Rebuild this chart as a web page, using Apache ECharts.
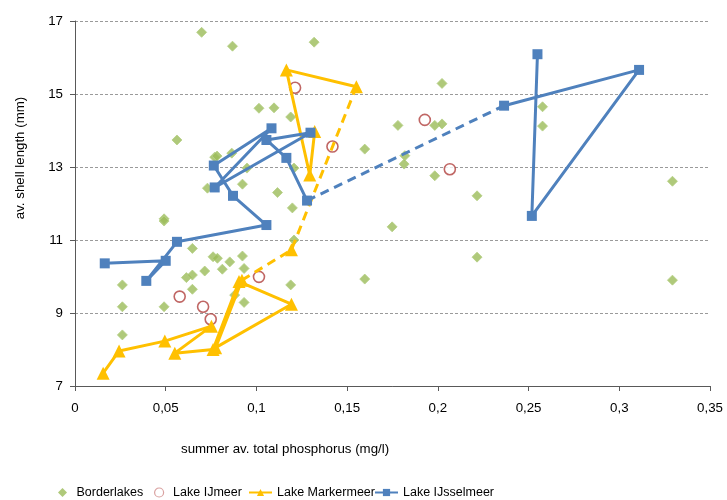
<!DOCTYPE html>
<html>
<head>
<meta charset="utf-8">
<script src="https://cdn.jsdelivr.net/npm/echarts@6/dist/echarts.min.js"></script>
<style>
  html, body { margin: 0; padding: 0; background: #fff; }
  #chart { width: 727px; height: 500px; }
</style>
</head>
<body>
<div id="chart"></div>
<script>
// Summer average total phosphorus (mg/l) vs. average shell length (mm)

const borderlakes = [
  [0.0698, 16.69], [0.0868, 16.31], [0.1318, 16.42], [0.1014, 14.61], [0.1097, 14.62],
  [0.1189, 14.37], [0.0562, 13.74], [0.1597, 13.49], [0.0864, 13.38], [0.0770, 13.27],
  [0.0783, 13.30], [0.0730, 12.42], [0.1780, 14.14], [0.1818, 13.31], [0.1814, 13.08],
  [0.0948, 12.97], [0.1207, 12.97], [0.0923, 12.53], [0.1116, 12.30], [0.2023, 15.29],
  [0.1983, 14.14], [0.2023, 14.18], [0.1983, 12.76], [0.2577, 14.65], [0.2577, 14.12],
  [0.2216, 12.21], [0.3293, 12.61], [0.2216, 10.53], [0.3293, 9.90], [0.1198, 11.88],
  [0.1748, 11.36], [0.1207, 11.00], [0.0923, 10.56], [0.0932, 10.22], [0.0853, 10.40],
  [0.1189, 9.77], [0.1597, 9.93], [0.0880, 9.49], [0.0932, 9.29], [0.0491, 11.58],
  [0.0491, 11.52], [0.0647, 10.77], [0.0761, 10.54], [0.0785, 10.50], [0.0812, 10.20],
  [0.0715, 10.15], [0.0614, 9.97], [0.0647, 10.04], [0.0647, 9.65], [0.0261, 9.77],
  [0.0261, 9.17], [0.0491, 9.17], [0.0261, 8.40]
];

const ijmeer = [
  [0.1213, 15.17], [0.1419, 13.56], [0.1928, 14.29], [0.2066, 12.94],
  [0.1014, 9.99], [0.0577, 9.45], [0.0706, 9.17], [0.0748, 8.83]
];

// Markermeer: two measured runs joined by a gap year (dashed)
const markermeerRunA = [
  [0.0155, 7.35], [0.0243, 7.96], [0.0495, 8.23], [0.0752, 8.64], [0.0550, 7.90],
  [0.0761, 8.00], [0.0904, 9.86], [0.1193, 9.24], [0.0775, 8.05], [0.0920, 9.90]
];
const markermeerGapPoint = [[0.1193, 10.73]];
const markermeerRunB = [
  [0.1551, 15.20], [0.1165, 15.66], [0.1294, 12.78], [0.1321, 13.97]
];

// IJsselmeer: two runs joined by a dashed gap
const ijsselmeerRunA = [
  [0.0164, 10.36], [0.0500, 10.43], [0.0393, 9.88], [0.0562, 10.95], [0.1055, 11.41],
  [0.0871, 12.21], [0.0765, 13.04], [0.1083, 14.06], [0.0770, 12.44], [0.1298, 13.94],
  [0.1055, 13.74], [0.1165, 13.25], [0.1279, 12.08]
];
const ijsselmeerRunB = [
  [0.2365, 14.68], [0.3109, 15.66], [0.2518, 11.66], [0.2549, 16.09]
];

const seriesNames = ['Borderlakes', 'Lake IJmeer', 'Lake Markermeer', 'Lake IJsselmeer'];
const xAxisTitle = 'summer av. total phosphorus (mg/l)';
const yAxisTitle = 'av. shell length (mm)';

const GREEN = '#9BBB59', RED = '#B0403D', YELLOW = '#FFC000', BLUE = '#4F81BD';
const FONT = 'Liberation Sans, Arial, sans-serif';

const markermeerDash = [markermeerRunA[markermeerRunA.length - 1], markermeerGapPoint[0], markermeerRunB[0]];
const ijsselmeerDash = [ijsselmeerRunA[ijsselmeerRunA.length - 1], ijsselmeerRunB[0]];

const commaNum = v => String(+v.toFixed(2)).replace('.', ',');

function lineRun(name, data, color, symbol, size) {
  return {
    name, type: 'line', data, symbol, symbolSize: size, showSymbol: true,
    lineStyle: { color, width: 3 }, itemStyle: { color, borderWidth: 0 },
    emphasis: { disabled: true }, animation: false, z: 3
  };
}
function dashRun(data, color) {
  return {
    name: '_gap', type: 'line', data, showSymbol: false, symbol: 'none',
    lineStyle: { color, width: 3, type: [9, 6] }, emphasis: { disabled: true },
    animation: false, z: 2
  };
}

// one legend block per entry so each sits where it belongs in the bottom row
const legendText = { color: '#000', fontSize: 12.5, fontFamily: FONT };
function legendEntry(left, width, item) {
  return {
    left, top: 481, itemWidth: width, itemHeight: 9, itemGap: 0,
    symbolKeepAspect: true, data: [item], textStyle: legendText
  };
}

const chart = echarts.init(document.getElementById('chart'), null, { renderer: 'canvas' });
chart.setOption({
  backgroundColor: '#fff',
  animation: false,
  textStyle: { fontFamily: FONT },
  grid: { left: 75, right: 17, top: 21, bottom: 114, containLabel: false },
  xAxis: {
    type: 'value', min: 0, max: 0.35, interval: 0.05,
    axisLine: { show: true, lineStyle: { color: '#595959', width: 1 } },
    axisTick: { show: true, length: 5, lineStyle: { color: '#595959' } },
    axisLabel: { color: '#000', fontSize: 13.3, margin: 16, formatter: commaNum },
    splitLine: { show: false }
  },
  yAxis: {
    type: 'value', min: 7, max: 17, interval: 2,
    axisLine: { show: true, lineStyle: { color: '#595959', width: 1 } },
    axisTick: { show: true, length: 5, lineStyle: { color: '#595959' } },
    axisLabel: { color: '#000', fontSize: 13.3, margin: 12 },
    splitLine: { show: true, lineStyle: { color: '#9A9A9A', width: 1, type: [3, 2] } }
  },
  legend: [
    legendEntry(53, 18, {
      name: seriesNames[0], icon: 'path://M0,-1L1,0L0,1L-1,0Z',
      itemStyle: { color: GREEN, borderWidth: 0 }
    }),
    legendEntry(149, 18, {
      name: seriesNames[1], icon: 'path://M-1,0A1,1,0,1,1,1,0A1,1,0,1,1,-1,0Z',
      itemStyle: { color: '#fff', borderColor: '#D08A88', borderWidth: 1.2 }
    }),
    legendEntry(243, 23, { name: seriesNames[2] }),
    legendEntry(369, 23, { name: seriesNames[3] })
  ],
  graphic: [
    { type: 'text', left: 181, top: 443, style: { text: xAxisTitle, fill: '#000', font: '13.3px ' + FONT } },
    { type: 'text', x: 20, y: 158, rotation: Math.PI / 2,
      style: { text: yAxisTitle, fill: '#000', font: '13.3px ' + FONT, align: 'center', verticalAlign: 'middle' } }
  ],
  series: [
    {
      name: seriesNames[0], type: 'scatter', data: borderlakes, symbol: 'diamond', symbolSize: 10,
      itemStyle: { color: GREEN, borderColor: '#B5CF84', borderWidth: 1 }, emphasis: { disabled: true }, z: 1
    },
    {
      name: seriesNames[1], type: 'scatter', data: ijmeer, symbol: 'circle', symbolSize: 11,
      itemStyle: { color: '#fff', borderColor: RED, borderWidth: 1.6 }, emphasis: { disabled: true }, z: 1
    },
    dashRun(markermeerDash, YELLOW),
    lineRun(seriesNames[2], markermeerRunA, YELLOW, 'triangle', 13),
    lineRun(seriesNames[2], markermeerGapPoint, YELLOW, 'triangle', 13),
    lineRun(seriesNames[2], markermeerRunB, YELLOW, 'triangle', 13),
    dashRun(ijsselmeerDash, BLUE),
    lineRun(seriesNames[3], ijsselmeerRunA, BLUE, 'rect', 10),
    lineRun(seriesNames[3], ijsselmeerRunB, BLUE, 'rect', 10)
  ]
});
</script>
</body>
</html>
